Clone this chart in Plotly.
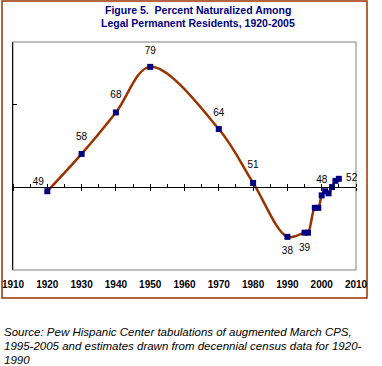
import plotly.graph_objects as go

years = [1920, 1930, 1940, 1950, 1970, 1980, 1990, 1995, 1996, 1998, 1999,
         2000, 2001, 2002, 2003, 2004, 2005]
pct = [49, 58, 68, 79, 64, 51, 38, 39, 39, 45, 45, 48, 49, 48.5, 50, 51.5, 52]
labels = ["49", "58", "68", "79", "64", "51", "38", "39", "", "", "", "48",
          "", "", "", "", "52"]
label_pos = ["top left", "top center", "top center", "top center", "top center",
             "top center", "bottom center", "bottom center", "top center",
             "top center", "top center", "top center", "top center",
             "top center", "top center", "top center", "middle right"]
label_gap = [4, 17, 17, 15, 16, 18, 14, 15, 1, 1, 1, 14, 1, 1, 1, 1, 10]
x_ticks = [1910, 1920, 1930, 1940, 1950, 1960, 1970, 1980, 1990, 2000, 2010]

title_lines = ["Figure 5.  Percent Naturalized Among",
               "Legal Permanent Residents, 1920-2005"]
source_lines = ["Source: Pew Hispanic Center tabulations of augmented March CPS,",
                "1995-2005 and estimates drawn from decennial census data for 1920-",
                "1990"]

W, H = 382, 366
L, R, T, B = 13, 26, 42, 96
pw, ph = W - L - R, H - T - B


def px_x(x):
    return (x - L) / pw


def px_y(y):
    return (T + ph - y) / ph


fig = go.Figure()
fig.add_trace(go.Scatter(
    x=years, y=pct, mode="markers+text", text=labels, textposition=label_pos,
    marker=dict(size=label_gap, color="rgba(0,0,0,0)",
                line=dict(width=0, color="rgba(0,0,0,0)")),
    textfont=dict(family="Liberation Sans, Arial", size=10, color="black"),
    cliponaxis=False, hoverinfo="skip", showlegend=False))
fig.add_trace(go.Scatter(
    x=years, y=pct, mode="lines+markers",
    line=dict(color="#993300", width=2.5, shape="spline", smoothing=1),
    marker=dict(symbol="square", size=6, color="#000080",
                line=dict(width=0)),
    hoverinfo="skip", showlegend=False))
fig.add_trace(go.Scatter(x=[1910, 2010], y=[None, None], xaxis="x2",
                         mode="lines", showlegend=False, hoverinfo="skip"))

ymin, ymax, ycross = 30, 85, 50

fig.update_layout(
    width=W, height=H,
    margin=dict(l=L, r=R, t=T, b=B, pad=0, autoexpand=False),
    paper_bgcolor="white", plot_bgcolor="white",
    font=dict(family="Liberation Sans, Arial", color="black"),
    xaxis=dict(range=[1910, 2010], anchor="free", automargin=False,
               position=(ycross - ymin) / (ymax - ymin),
               showline=True, linecolor="black", linewidth=1,
               showgrid=False, zeroline=False, showticklabels=False,
               tickmode="array", tickvals=x_ticks,
               ticks="outside", ticklen=3, tickcolor="black", tickwidth=1,
               minor=dict(ticks="inside", dtick=5, tick0=1910, ticklen=3,
                          tickcolor="black", tickwidth=1, showgrid=False)),
    xaxis2=dict(range=[1910, 2010], overlaying="x", anchor="y", side="bottom",
                automargin=False,
                showline=False, showgrid=False, zeroline=False,
                tickmode="array", tickvals=x_ticks,
                ticktext=[str(v) for v in x_ticks],
                ticks="outside", ticklen=5, tickcolor="rgba(0,0,0,0)",
                tickfont=dict(family="Liberation Sans, Arial", size=10,
                              color="black", weight="bold")),
    yaxis=dict(range=[ymin, ymax], automargin=False,
               showline=True, linecolor="black", linewidth=1,
               showgrid=False, zeroline=False, showticklabels=False,
               tickmode="array", tickvals=[30, 50, 70],
               ticks="inside", ticklen=4, tickcolor="black"),
)

fig.add_shape(type="rect", xref="paper", yref="paper", x0=0, x1=1, y0=0, y1=1,
              line=dict(color="#808080", width=1), layer="below")
fig.add_shape(type="rect", xref="paper", yref="paper",
              x0=px_x(2), x1=px_x(367), y0=px_y(298), y1=px_y(1),
              line=dict(color="#993300", width=1.5), layer="below")

for line, yc in zip(title_lines, [10, 23]):
    fig.add_annotation(text=line, xref="paper", yref="paper",
                       x=px_x(198), y=px_y(yc), xanchor="center",
                       yanchor="middle", showarrow=False,
                       font=dict(family="Liberation Sans, Arial", size=10.5,
                                 color="#000080", weight="bold"))

for line, yc in zip(source_lines, [332, 346, 360]):
    fig.add_annotation(text=line, xref="paper", yref="paper",
                       x=px_x(2), y=px_y(yc), xanchor="left",
                       yanchor="middle", align="left", showarrow=False,
                       font=dict(family="Liberation Sans, Arial", size=11.5,
                                 color="black", style="italic"))

fig.write_html("out.html", config={"displayModeBar": False},
               post_script="document.body.style.margin='0';"
                           "document.body.style.overflow='hidden';")
